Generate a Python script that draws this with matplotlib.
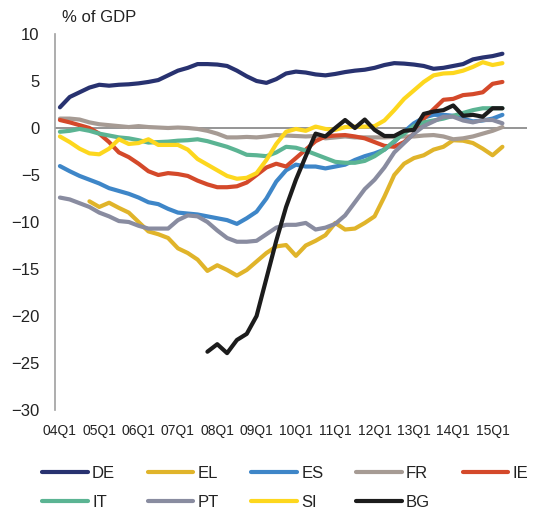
import matplotlib
matplotlib.use("Agg")
import matplotlib.pyplot as plt
import numpy as np

plt.rcParams['font.family'] = ['Liberation Sans', 'DejaVu Sans']

# quarterly axis 2004Q1 - 2015Q4, data through 2015Q2
quarters = [f"{y:02d}Q{q}" for y in range(4, 16) for q in range(1, 5)]
tick_labels = [f"{y:02d}Q1" for y in range(4, 16)]

DE = [2.2, 3.3, 3.8, 4.3, 4.6, 4.5, 4.6, 4.65, 4.75, 4.9, 5.1, 5.6, 6.1, 6.4, 6.8, 6.8,
      6.75, 6.6, 6.1, 5.5, 5.0, 4.8, 5.2, 5.8, 6.0, 5.9, 5.7, 5.6, 5.75, 5.95, 6.1, 6.2,
      6.4, 6.7, 6.9, 6.85, 6.75, 6.6, 6.3, 6.4, 6.6, 6.8, 7.3, 7.5, 7.65, 7.9]
EL = [None, None, None, -7.8, -8.4, -7.95, -8.5, -9.0, -10.0, -11.0, -11.3, -11.7, -12.8,
      -13.3, -14.0, -15.2, -14.6, -15.1, -15.7, -15.1, -14.2, -13.3, -12.6, -12.45, -13.6,
      -12.5, -12.0, -11.4, -10.1, -10.8, -10.7, -10.1, -9.4, -7.3, -5.0, -3.8, -3.2, -2.9,
      -2.3, -2.0, -1.3, -1.35, -1.6, -2.2, -2.9, -2.0]
ES = [-4.05, -4.6, -5.1, -5.5, -5.9, -6.4, -6.7, -7.0, -7.4, -7.9, -8.1, -8.6, -9.0, -9.1,
      -9.2, -9.4, -9.6, -9.8, -10.2, -9.6, -8.9, -7.5, -5.7, -4.5, -3.9, -4.1, -4.1, -4.3,
      -4.1, -3.9, -3.4, -3.0, -2.7, -2.3, -1.5, -0.4, 0.5, 1.1, 1.4, 1.4, 1.3, 1.0, 0.7,
      0.8, 1.0, 1.4]
FR = [1.0, 1.0, 0.9, 0.6, 0.4, 0.3, 0.2, 0.1, 0.2, 0.1, 0.05, 0.0, 0.05, 0.0, -0.1, -0.3,
      -0.6, -1.0, -1.0, -0.95, -1.0, -0.9, -0.75, -0.8, -0.85, -0.9, -0.85, -1.1, -1.0,
      -0.9, -1.0, -1.0, -1.0, -1.0, -0.95, -0.9, -0.9, -0.8, -0.75, -0.9, -1.2, -1.1, -0.9,
      -0.6, -0.3, 0.1]
IE = [0.85, 0.6, 0.3, 0.0, -0.6, -1.5, -2.6, -3.1, -3.8, -4.6, -5.0, -4.8, -4.9, -5.1,
      -5.6, -6.0, -6.3, -6.3, -6.2, -5.8, -5.0, -4.2, -3.8, -4.1, -3.2, -2.3, -1.4, -0.9,
      -0.8, -0.75, -0.9, -1.1, -1.5, -1.9, -2.0, -1.5, -0.6, 1.0, 2.0, 3.0, 3.1, 3.5, 3.6,
      3.8, 4.7, 4.9]
IT = [-0.4, -0.3, -0.1, -0.3, -0.6, -0.8, -1.0, -1.1, -1.3, -1.55, -1.5, -1.45, -1.35,
      -1.3, -1.2, -1.4, -1.7, -2.0, -2.4, -2.85, -2.9, -3.0, -2.6, -2.0, -2.1, -2.4, -2.8,
      -3.2, -3.6, -3.7, -3.7, -3.5, -3.0, -2.3, -1.4, -0.6, 0.2, 0.6, 0.8, 1.0, 1.3, 1.6,
      1.9, 2.1, 2.1, 2.1]
PT = [-7.4, -7.6, -8.0, -8.4, -9.0, -9.4, -9.9, -10.0, -10.4, -10.7, -10.7, -10.7, -9.8,
      -9.3, -9.4, -10.0, -10.9, -11.7, -12.1, -12.1, -12.0, -11.3, -10.6, -10.3, -10.3,
      -10.1, -10.8, -10.6, -10.2, -9.3, -7.9, -6.5, -5.5, -4.2, -2.6, -1.6, -0.6, 0.2, 0.7,
      1.2, 1.2, 0.8, 0.6, 0.85, 0.85, 0.5]
SI = [-0.9, -1.5, -2.2, -2.7, -2.8, -2.2, -1.2, -1.7, -1.6, -1.2, -1.8, -1.8, -1.8, -2.3,
      -3.3, -3.9, -4.5, -5.1, -5.4, -5.3, -4.8, -3.4, -1.7, -0.4, -0.1, -0.3, 0.15, -0.1,
      -0.2, 0.1, 0.15, 0.15, 0.2, 0.8, 1.9, 3.1, 4.0, 4.9, 5.6, 5.8, 5.85, 6.1, 6.5, 7.0,
      6.7, 6.9]
BG = [None] * 15 + [-23.8, -23.0, -23.95, -22.55, -21.9, -20.0, -16.0, -12.0, -8.4, -5.5,
      -3.0, -0.6, -0.9, 0.0, 0.85, 0.0, 0.9, -0.2, -0.85, -0.85, -0.3, -0.2, 1.5, 1.75,
      1.9, 2.4, 1.3, 1.4, 1.2, 2.1, 2.1]

series = [("DE", DE, "#283270"), ("EL", EL, "#E0B42A"), ("ES", ES, "#3E86C8"),
          ("FR", FR, "#A69B94"), ("IE", IE, "#D4492A"), ("IT", IT, "#5BB493"),
          ("PT", PT, "#898CA0"), ("SI", SI, "#FDD71E"), ("BG", BG, "#1C1C1C")]

fig = plt.figure(figsize=(5.34, 5.12), dpi=100)
ax = fig.add_axes([55 / 534, 1 - 410 / 512, 472 / 534, 376 / 512])

ax.axhline(0, color="#8C8C8C", lw=1.3, zorder=1)
lines = {}
for name, vals, col in series:
    y = np.array([np.nan if v is None else v for v in vals], dtype=float)
    lines[name], = ax.plot(np.arange(len(y)), y, color=col, lw=3, label=name,
                           solid_capstyle="round", solid_joinstyle="round", zorder=2)

ax.set_xlim(-0.5, len(quarters) - 0.5)
ax.set_ylim(-30, 10)
ax.set_yticks(np.arange(-30, 11, 5))
ax.set_xticks(np.arange(0, len(quarters), 4))
ax.set_xticklabels(tick_labels)
ax.tick_params(axis="y", length=0, pad=11, labelsize=12, labelcolor="#222222")
ax.tick_params(axis="x", length=0, pad=10, labelsize=10, labelcolor="#222222")
for s in ["top", "right", "bottom"]:
    ax.spines[s].set_visible(False)
ax.spines["left"].set_color("#A0A0A0")
ax.spines["left"].set_linewidth(1.2)

fig.text(62 / 534, 1 - 18 / 512, "% of GDP", fontsize=12, color="#222222", va="center")

# legend fills column by column, so order entries to read row-wise
order = ["DE", "IT", "EL", "PT", "ES", "SI", "FR", "BG", "IE"]
fig.legend([lines[k] for k in order], order, loc="upper left",
           bbox_to_anchor=(42 / 534, 1 - 466 / 512), ncol=5,
           frameon=False, fontsize=12, handlelength=2.75, handletextpad=0.25,
           columnspacing=1.95, labelspacing=0.85, borderpad=0, borderaxespad=0,
           labelcolor="#222222")

fig.savefig("out.png", dpi=100)
